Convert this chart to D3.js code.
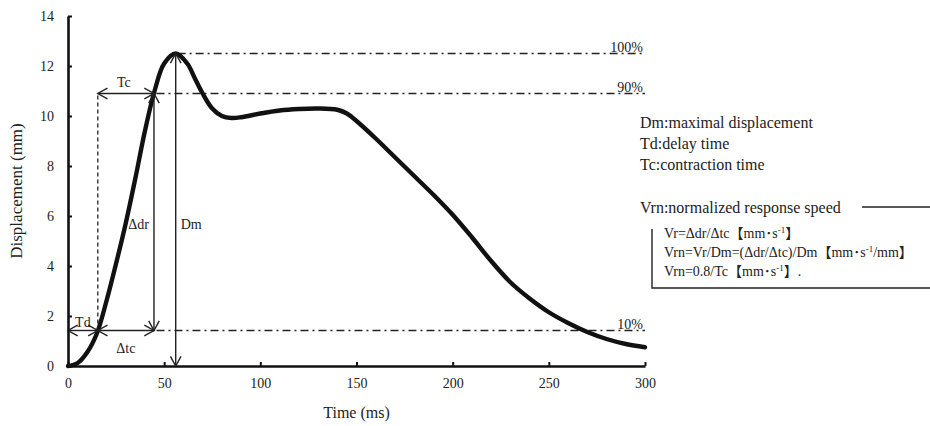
<!DOCTYPE html>
<html>
<head>
<meta charset="utf-8">
<script src="https://cdn.jsdelivr.net/npm/d3@7"></script>
<style>
  body { margin: 0; background: #fff; }
</style>
</head>
<body>
<div id="chart"></div>
<script>
// --- Data ---
const timeMs = [0, 5, 10, 15, 20, 25, 30, 35, 40, 45, 50, 56, 62, 66, 70, 75, 80, 85, 90, 100, 110, 120, 130, 140, 145, 150, 160, 170, 180, 190, 200, 210, 220, 230, 240, 250, 260, 270, 280, 290, 300];
const displacement = [0, 0.12, 0.55, 1.3, 2.6, 4.1, 5.7, 7.5, 9.4, 11.0, 12.1, 12.5, 12.1, 11.5, 10.9, 10.3, 10.0, 9.92, 9.95, 10.1, 10.22, 10.28, 10.3, 10.25, 10.1, 9.8, 9.1, 8.35, 7.6, 6.85, 6.05, 5.15, 4.2, 3.35, 2.7, 2.15, 1.72, 1.36, 1.08, 0.88, 0.75];
const xTicks = [0, 50, 100, 150, 200, 250, 300];
const yTicks = [0, 2, 4, 6, 8, 10, 12, 14];

// reference levels (mm) and times (ms)
const levels = [
    { name: "100%", value: 12.5, from: 57 },
    { name: "90%", value: 10.9, from: 46 },
    { name: "10%", value: 1.42, from: 46 }
];
const tOnset = 15.5;   // 10% crossing
const t90 = 44.7;      // 90% crossing
const tPeak = 56;      // maximal displacement

const notes = ["Dm:maximal displacement", "Td:delay time", "Tc:contraction time"];
const vrnTitle = "Vrn:normalized response speed";
const formulas = [
    ["Vr=Δdr/Δtc【mm･s", "-1", "】"],
    ["Vrn=Vr/Dm=(Δdr/Δtc)/Dm【mm･s", "-1", "/mm】"],
    ["Vrn=0.8/Tc【mm･s", "-1", "】."]
];

const FONT = '"Liberation Serif", "Times New Roman", "Noto Sans CJK JP", serif';
const width = 930, height = 426;
const margin = { left: 68, top: 16, right: 285, bottom: 60 };

const svg = d3.select("#chart").append("svg")
    .attr("width", width)
    .attr("height", height)
    .attr("font-family", FONT);

const x = d3.scaleLinear().domain([0, 300]).range([margin.left, width - margin.right]);
const y = d3.scaleLinear().domain([0, 14]).range([height - margin.bottom, margin.top]);

// --- Axes ---
const xAxis = svg.append("g")
    .attr("transform", `translate(0,${y(0)})`)
    .call(d3.axisBottom(x).tickValues(xTicks).tickSizeInner(-4).tickSizeOuter(0).tickPadding(12));
const yAxis = svg.append("g")
    .attr("transform", `translate(${x(0)},0)`)
    .call(d3.axisLeft(y).tickValues(yTicks).tickSizeInner(-4).tickSizeOuter(0).tickPadding(14));

[xAxis, yAxis].forEach(a => {
    a.attr("font-family", FONT).attr("font-size", 14);
    a.select(".domain").attr("stroke", "#111").attr("stroke-width", 2.6);
    a.selectAll(".tick line").attr("stroke", "#111").attr("stroke-width", 2);
    a.selectAll(".tick text").attr("fill", "#222");
});

function label(txt, px, py, anchor, size) {
    return svg.append("text")
        .attr("x", px).attr("y", py)
        .attr("text-anchor", anchor || "middle")
        .attr("font-size", size || 14)
        .attr("fill", "#222")
        .text(txt);
}

label("Time (ms)", x(150), 418, "middle", 16);
label("Displacement (mm)", 0, 0, "middle", 17)
    .attr("transform", `translate(22,${y(7)}) rotate(-90)`);

// --- Level lines (dash-dot) ---
levels.forEach(l => {
    svg.append("line")
        .attr("x1", x(l.from)).attr("x2", x(300))
        .attr("y1", y(l.value)).attr("y2", y(l.value))
        .attr("stroke", "#222").attr("stroke-width", 1.3)
        .attr("stroke-dasharray", "8,4,2,4");
    label(l.name, x(300) - 2, y(l.value) - 2, "end", 14);
});

// dashed vertical from onset up to 90% level
svg.append("line")
    .attr("x1", x(tOnset)).attr("x2", x(tOnset))
    .attr("y1", y(levels[2].value)).attr("y2", y(levels[1].value))
    .attr("stroke", "#222").attr("stroke-width", 1.3)
    .attr("stroke-dasharray", "4,3");

// --- Curve ---
const line = d3.line()
    .x((d, i) => x(timeMs[i]))
    .y(d => y(d))
    .curve(d3.curveCatmullRom.alpha(0.5));

svg.append("path")
    .datum(displacement)
    .attr("fill", "none")
    .attr("stroke", "#111")
    .attr("stroke-width", 4.4)
    .attr("stroke-linecap", "round")
    .attr("d", line);

// --- Double arrows ---
function arrow(x1, y1, x2, y2) {
    const g = svg.append("g").attr("stroke", "#222").attr("stroke-width", 1.4).attr("fill", "none");
    g.append("line").attr("x1", x1).attr("y1", y1).attr("x2", x2).attr("y2", y2);
    const ang = Math.atan2(y2 - y1, x2 - x1);
    const len = 11, spread = 0.5;
    [[x1, y1, ang], [x2, y2, ang + Math.PI]].forEach(([px, py, a]) => {
        const p = d3.path();
        p.moveTo(px + len * Math.cos(a - spread), py + len * Math.sin(a - spread));
        p.lineTo(px, py);
        p.lineTo(px + len * Math.cos(a + spread), py + len * Math.sin(a + spread));
        g.append("path").attr("d", p.toString());
    });
}

// Tc
arrow(x(tOnset), y(levels[1].value), x(t90), y(levels[1].value));
label("Tc", (x(tOnset) + x(t90)) / 2 - 2, y(levels[1].value) - 7);
// Td
arrow(x(0), y(levels[2].value), x(tOnset), y(levels[2].value));
label("Td", (x(0) + x(tOnset)) / 2, y(levels[2].value) - 4);
// Δtc
arrow(x(tOnset), y(levels[2].value), x(t90), y(levels[2].value));
label("Δtc", (x(tOnset) + x(t90)) / 2, y(levels[2].value) + 22);
// Δdr
arrow(x(t90), y(levels[1].value), x(t90), y(levels[2].value));
label("Δdr", x(t90) - 5, y(5.5), "end");
// Dm
arrow(x(tPeak), y(levels[0].value), x(tPeak), y(0));
label("Dm", x(tPeak) + 5, y(5.5), "start");

// --- Text notes on the right ---
const noteX = 640;
notes.forEach((n, i) => {
    label(n, noteX, 128 + i * 21, "start", 16);
});
label(vrnTitle, noteX, 213, "start", 16);
svg.append("line")
    .attr("x1", 862).attr("x2", 930).attr("y1", 207).attr("y2", 207)
    .attr("stroke", "#222").attr("stroke-width", 1.4);

// bracket box
svg.append("path")
    .attr("d", "M652,229V288H930")
    .attr("fill", "none").attr("stroke", "#222").attr("stroke-width", 1.4);

formulas.forEach((f, i) => {
    const t = svg.append("text")
        .attr("x", 664).attr("y", 238 + i * 19)
        .attr("font-size", 14)
        .attr("fill", "#222");
    t.append("tspan").text(f[0]);
    t.append("tspan").attr("dy", -5).attr("font-size", 9).text(f[1]);
    t.append("tspan").attr("dy", 5).text(f[2]);
});
</script>
</body>
</html>
